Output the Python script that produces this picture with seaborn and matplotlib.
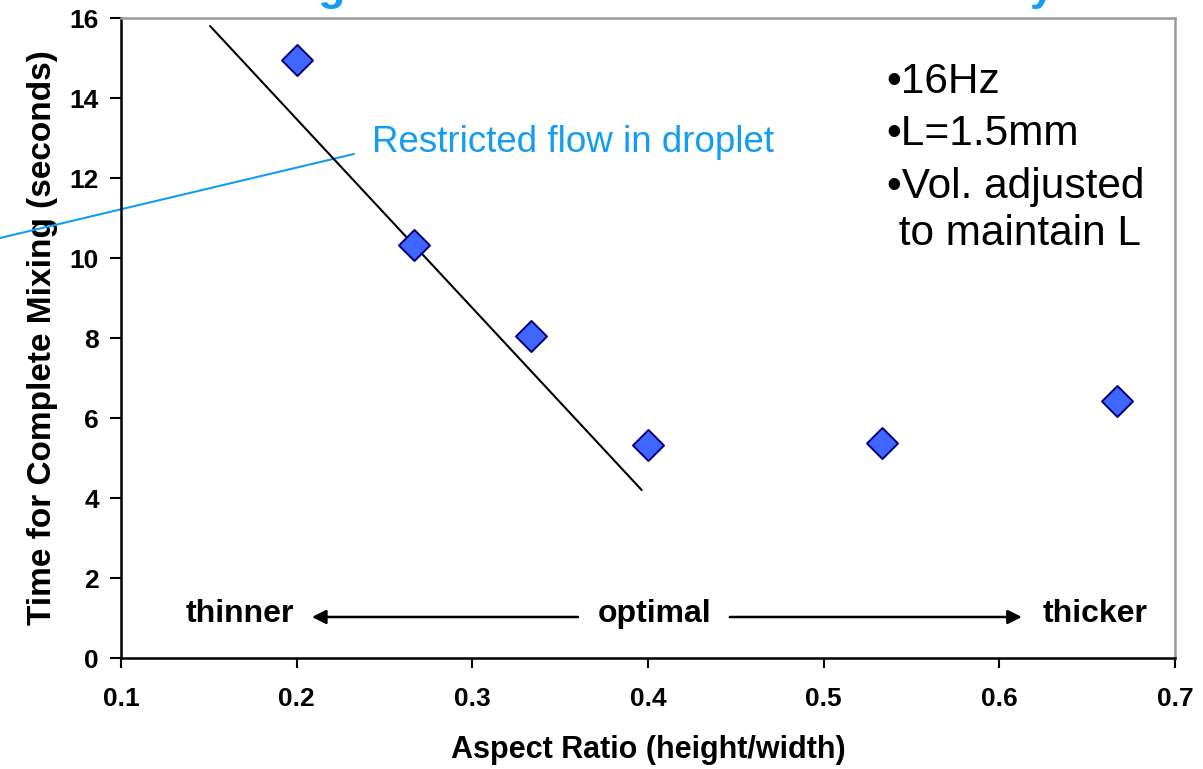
import matplotlib
matplotlib.use("Agg")
import matplotlib.pyplot as plt
import seaborn as sns
import pandas as pd

# ---- data ----
aspect_ratio = [0.2, 0.2667, 0.3333, 0.4, 0.5333, 0.6667]
mix_time = [14.95, 10.33, 8.05, 5.32, 5.38, 6.42]

fit_x = [0.1507, 0.3964]
fit_y = [15.8, 4.2]

callout_x = [0.0311, 0.2326]
callout_y = [10.5, 12.6]

x_ticks = [0.1, 0.2, 0.3, 0.4, 0.5, 0.6, 0.7]
x_tick_labels = ["0.1", "0.2", "0.3", "0.4", "0.5", "0.6", "0.7"]
y_ticks = [0, 2, 4, 6, 8, 10, 12, 14, 16]
y_tick_labels = ["0", "2", "4", "6", "8", "10", "12", "14", "16"]

notes = ["\u202216Hz", "\u2022L=1.5mm", "\u2022Vol. adjusted", " to maintain L"]

sns.set_theme(style="white")
plt.rcParams["font.family"] = ["Liberation Sans", "DejaVu Sans"]
plt.rcParams["text.color"] = "black"
plt.rcParams["axes.labelcolor"] = "black"
plt.rcParams["xtick.color"] = "black"
plt.rcParams["ytick.color"] = "black"

BLUE_TXT = "#139DF2"
FILL = "#3F66FF"
EDGE = "#00007F"

fig = plt.figure(figsize=(12.03, 7.69), dpi=100)
ax = fig.add_axes([121 / 1203, 1 - 658 / 769, (1175 - 121) / 1203, (658 - 18) / 769])

df = pd.DataFrame({"ar": aspect_ratio, "t": mix_time})
fit_df = pd.DataFrame({"x": fit_x, "y": fit_y})

sns.lineplot(data=fit_df, x="x", y="y", ax=ax, color="black", linewidth=1.5, zorder=2)
sns.scatterplot(data=df, x="ar", y="t", ax=ax, marker="D", s=250,
                color=FILL, edgecolor=EDGE, linewidth=1.4, zorder=3)

ax.set_xlim(0.1, 0.7)
ax.set_ylim(0, 16)
ax.set_xticks(x_ticks)
ax.set_xticklabels(x_tick_labels, fontsize=19, fontweight="bold", color="black")
ax.set_yticks(y_ticks)
ax.set_yticklabels(y_tick_labels, fontsize=19, fontweight="bold", color="black")
ax.tick_params(axis="x", direction="out", length=7, width=1.5, colors="black", pad=14, bottom=True)
ax.tick_params(axis="y", direction="out", length=8, width=1.5, colors="black", pad=8, left=True)

ax.set_xlabel("Aspect Ratio (height/width)", fontsize=22, fontweight="bold", labelpad=17,
              color="black")
ax.set_ylabel("Time for Complete Mixing (seconds)", fontsize=24, fontweight="bold", labelpad=8,
              color="black")

for s in ["left", "bottom"]:
    ax.spines[s].set_color("black")
    ax.spines[s].set_linewidth(1.8)
for s in ["top", "right"]:
    ax.spines[s].set_color("#9a9a9a")
    ax.spines[s].set_linewidth(1.8)

# call-out line and text
ax.plot(callout_x, callout_y, color=BLUE_TXT, linewidth=1.5, clip_on=False, zorder=1)
ax.text(0.2429, 12.875, "Restricted flow in droplet", color=BLUE_TXT, fontsize=26.5,
        ha="left", va="center")

# notes block
note_y = [14.125, 12.825, 11.5, 10.325]
for txt, yy in zip(notes, note_y):
    ax.text(0.5358, yy, txt, fontsize=30.5, ha="left", va="baseline", color="black")

# thinner / optimal / thicker with arrows
for lbl, xx in zip(["thinner", "optimal", "thicker"], [0.1679, 0.4039, 0.6544]):
    ax.text(xx, 1.1, lbl, fontsize=23, fontweight="bold", ha="center", va="center",
            color="black")
arrow_kw = dict(arrowstyle="-|>,head_length=0.7,head_width=0.35", color="black", lw=1.8,
                shrinkA=0, shrinkB=0)
ax.annotate("", xy=(0.2087, 1.025), xytext=(0.3601, 1.025), arrowprops=arrow_kw)
ax.annotate("", xy=(0.6128, 1.025), xytext=(0.4466, 1.025), arrowprops=arrow_kw)

# title, cut off at the top edge as in the reference (only descenders show)
fig.text(0.168, 1.0, "Strong Effect of Thickness on Efficiency", color=BLUE_TXT,
         fontsize=32, fontweight="bold", ha="left", va="baseline")

fig.savefig("out.png", dpi=100)
